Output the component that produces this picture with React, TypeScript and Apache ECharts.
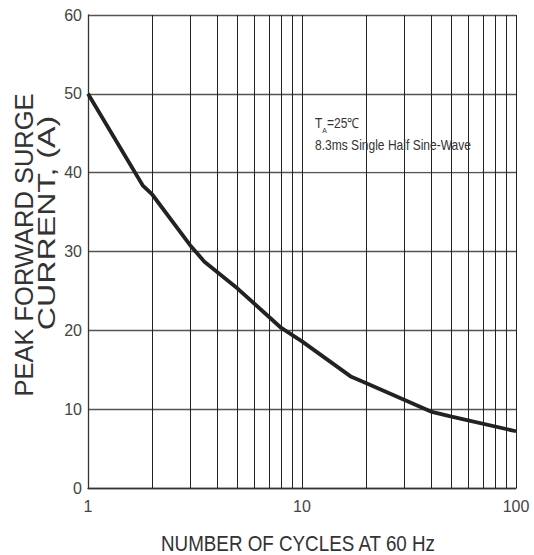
import React, { useEffect, useRef } from "react";
import * as echarts from "echarts";

const cycles = [1, 1.8, 2, 3, 3.5, 5, 8, 10, 17, 20, 40, 50, 100];
const surgeCurrent = [50, 38.4, 37.2, 30.8, 28.7, 25.3, 20.3, 18.6, 14.1, 13.3, 9.7, 9.05, 7.2];
const minorGridX = [2, 3, 4, 5, 6, 7, 8, 9, 20, 30, 40, 50, 60, 70, 80, 90];
const yTicks = { min: 0, max: 60, interval: 10 };
const xRange = { min: 1, max: 100 };

const W = 534;
const H = 555;
const G = { left: 88, right: 18, top: 15, bottom: 67 };

export default function App() {
  const ref = useRef<HTMLDivElement>(null);
  useEffect(() => {
    if (!ref.current) return;
    const chart = echarts.init(ref.current, null, { renderer: "svg" });
    const narrow = "'Liberation Sans Narrow', 'Arial Narrow', 'Liberation Sans', sans-serif";
    chart.setOption({
      animation: false,
      backgroundColor: "#fff",
      grid: { left: G.left, right: G.right, top: G.top, bottom: G.bottom },
      xAxis: {
        type: "log",
        logBase: 10,
        min: xRange.min,
        max: xRange.max,
        axisLine: { show: true, lineStyle: { color: "#333", width: 1.3 } },
        axisTick: { show: false },
        axisLabel: { fontSize: 16, color: "#444", fontFamily: narrow, margin: 10 },
        splitLine: { show: true, lineStyle: { color: "#222", width: 1 } },
      },
      yAxis: {
        type: "value",
        min: yTicks.min,
        max: yTicks.max,
        interval: yTicks.interval,
        axisLine: { show: true, lineStyle: { color: "#333", width: 1.3 } },
        axisTick: { show: false },
        axisLabel: { fontSize: 16, color: "#444", fontFamily: narrow, margin: 6 },
        splitLine: { show: true, lineStyle: { color: "#555", width: 1.4 } },
      },
      series: [
        {
          type: "line",
          name: "minor",
          z: 0,
          data: [],
          silent: true,
          markLine: {
            silent: true,
            symbol: "none",
            label: { show: false },
            lineStyle: { color: "#222", width: 1, type: "solid" },
            data: minorGridX.map((v) => ({ xAxis: v })),
          },
        },
        {
          type: "line",
          name: "Peak forward surge current",
          z: 3,
          data: cycles.map((c, i) => [c, surgeCurrent[i]]),
          showSymbol: false,
          symbol: "none",
          lineStyle: { color: "#222", width: 3.8 },
        },
      ],
    });

    const p10 = chart.convertToPixel({ gridIndex: 0 }, [10, 48.2]);
    const p70 = chart.convertToPixel({ gridIndex: 0 }, [70, 40]);

    chart.setOption({
      graphic: [
        {
          type: "rect",
          z: 1,
          shape: { x: p10[0] + 1, y: p10[1], width: p70[0] - p10[0] - 2, height: p70[1] - p10[1] - 1 },
          style: { fill: "#fff" },
          silent: true,
        },
        {
          type: "text",
          z: 5,
          x: p10[0] + 13,
          y: p10[1] + 4,
          scaleX: 0.86,
          style: {
            text: "T{sub|A}=25℃\n8.3ms Single Half Sine-Wave",
            fontSize: 14,
            lineHeight: 22,
            fontFamily: "'Liberation Sans', Arial, sans-serif",
            fill: "#333",
            rich: {
              sub: { fontSize: 8, verticalAlign: "bottom", lineHeight: 22, fill: "#333", padding: [6, 0, 0, 0] },
            },
          },
        },
        {
          type: "text",
          x: 24,
          y: 245,
          rotation: Math.PI / 2,
          scaleX: 1.02,
          style: {
            text: "PEAK FORWARD SURGE",
            fontSize: 25,
            fontFamily: "'Liberation Sans', Arial, sans-serif",
            fill: "#333",
            align: "center",
            verticalAlign: "middle",
          },
        },
        {
          type: "text",
          x: 47,
          y: 223,
          rotation: Math.PI / 2,
          scaleX: 1.34,
          style: {
            text: "CURRENT, (A)",
            fontSize: 24,
            fontFamily: "'Liberation Sans', Arial, sans-serif",
            fill: "#333",
            align: "center",
            verticalAlign: "middle",
          },
        },
        {
          type: "text",
          x: 298,
          y: 543,
          scaleX: 0.855,
          style: {
            text: "NUMBER OF CYCLES AT 60 Hz",
            fontSize: 22,
            fontFamily: "'Liberation Sans', Arial, sans-serif",
            fill: "#333",
            align: "center",
            verticalAlign: "middle",
          },
        },
      ],
    });
    return () => chart.dispose();
  }, []);
  return <div ref={ref} style={{ width: W, height: H, position: "absolute", left: 0, top: 0 }} />;
}
